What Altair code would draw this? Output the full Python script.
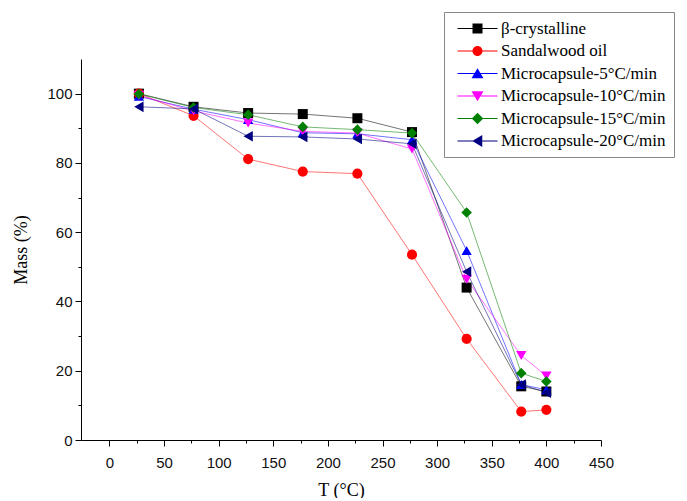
import altair as alt
import pandas as pd

temps = [27, 77, 127, 177, 227, 277, 327, 377, 400]
series_names = ["β-crystalline", "Sandalwood oil", "Microcapsule-5°C/min",
                "Microcapsule-10°C/min", "Microcapsule-15°C/min", "Microcapsule-20°C/min"]
beta = [100.0, 96.2, 94.4, 94.1, 92.9, 88.9, 44.0, 15.5, 14.0]
sandal = [100.0, 93.6, 81.1, 77.5, 76.9, 53.5, 29.2, 8.2, 8.7]
mc5 = [99.2, 95.5, 92.5, 88.7, 88.4, 86.7, 54.7, 16.0, 14.5]
mc10 = [99.5, 95.0, 91.5, 89.1, 88.6, 84.0, 46.4, 24.4, 18.5]
mc15 = [99.9, 96.0, 93.9, 90.4, 89.6, 88.6, 65.7, 19.3, 16.9]
mc20 = [96.2, 95.6, 87.7, 87.5, 86.9, 85.5, 48.6, 16.0, 13.7]

x_major = [0, 50, 100, 150, 200, 250, 300, 350, 400, 450]
x_minor = [25, 75, 125, 175, 225, 275, 325, 375, 425]
y_major = [0, 20, 40, 60, 80, 100]
y_minor = [10, 30, 50, 70, 90]

colors = ["#000000", "#ff0000", "#0000ff", "#ff00ff", "#008000", "#000080"]
shapes = ["square", "circle", "triangle-up", "triangle-down", "diamond", "triangle-left"]
sizes = [100, 115, 160, 160, 140, 160]
LINE = "M-4,-0.1H4V0.1H-4Z"
legend_paths = [
    LINE + "M-1,-1H1V1H-1Z",
    LINE + "M-1,0A1,1,0,1,1,1,0A1,1,0,1,1,-1,0Z",
    LINE + "M0,-1.05L1.2,0.95L-1.2,0.95Z",
    LINE + "M0,1.05L-1.2,-0.95L1.2,-0.95Z",
    LINE + "M-1.15,0L0,-1.15L1.15,0L0,1.15Z",
    LINE + "M-1.05,0L0.95,-1.2L0.95,1.2Z",
]

all_vals = [beta, sandal, mc5, mc10, mc15, mc20]
rows = []
for name, vals in zip(series_names, all_vals):
    for t, v in zip(temps, vals):
        rows.append({"series": name, "T": t, "Mass": v})
df = pd.DataFrame(rows)

xs = alt.Scale(domain=[-26, 450], nice=False, zero=False)
ys = alt.Scale(domain=[0, 110], nice=False, zero=False)

color_scale = alt.Scale(domain=series_names, range=colors)

ax_common = dict(domainColor="black", tickColor="black", grid=False,
                 labelFont="Liberation Sans", labelFontSize=15, labelColor="#111",
                 titleFont="Liberation Serif", titleFontSize=18, titleFontWeight="normal",
                 titleColor="black", tickSize=6, domainWidth=1, tickWidth=1,
                 labelFlush=False)

lines = alt.Chart(df).mark_line(strokeWidth=1, opacity=0.55).encode(
    x=alt.X("T:Q", scale=xs, axis=alt.Axis(values=x_major, title="T (°C)", labelPadding=9,
                                           titlePadding=11, **ax_common)),
    y=alt.Y("Mass:Q", scale=ys, axis=alt.Axis(values=y_major, title="Mass (%)", labelPadding=3,
                                              titlePadding=16, **ax_common)),
    color=alt.Color("series:N", scale=color_scale, legend=None),
    detail="series:N",
    order=alt.Order("T:Q"),
)

points = alt.Chart(df).mark_point(filled=True, opacity=1).encode(
    x=alt.X("T:Q", scale=xs, axis=None),
    y=alt.Y("Mass:Q", scale=ys, axis=None),
    color=alt.Color("series:N", scale=color_scale, legend=None),
    shape=alt.Shape("series:N", scale=alt.Scale(domain=series_names, range=shapes), legend=None),
    size=alt.Size("series:N", scale=alt.Scale(domain=series_names, range=sizes), legend=None),
)

leg = alt.Legend(title=None, orient="none", legendX=363, legendY=-47,
                 labelFont="Liberation Serif", labelFontSize=17, labelColor="black",
                 symbolSize=100, symbolStrokeWidth=0, symbolOffset=17, labelOffset=15,
                 padding=8, rowPadding=4.5, strokeColor="#888888", fillColor="white",
                 labelLimit=400)

legend_layer = alt.Chart(df).transform_filter("false").mark_point(
    filled=True, size=100, opacity=1).encode(
    x=alt.X("T:Q", scale=xs, axis=alt.Axis(values=x_minor, labels=False, title=None, tickSize=3,
                                           domain=False, orient="bottom", grid=False,
                                           tickColor="black")),
    y=alt.Y("Mass:Q", scale=ys, axis=alt.Axis(values=y_minor, labels=False, title=None, tickSize=3,
                                              domain=False, orient="left", grid=False,
                                              tickColor="black")),
    color=alt.Color("series:N", scale=color_scale, legend=leg),
    shape=alt.Shape("series:N", scale=alt.Scale(domain=series_names, range=legend_paths), legend=leg),
)

chart = alt.layer(lines, points, legend_layer).resolve_scale(
    color="independent", shape="independent"
).resolve_axis(x="independent", y="independent").properties(
    width=520, height=381,
    background="white",
    autosize=alt.AutoSizeParams(type="none"),
    padding={"left": 73, "top": 51, "right": 78, "bottom": 58},
).configure_view(stroke="transparent", strokeWidth=0)

chart.save("out.html", embed_options={"renderer": "svg", "actions": False})
